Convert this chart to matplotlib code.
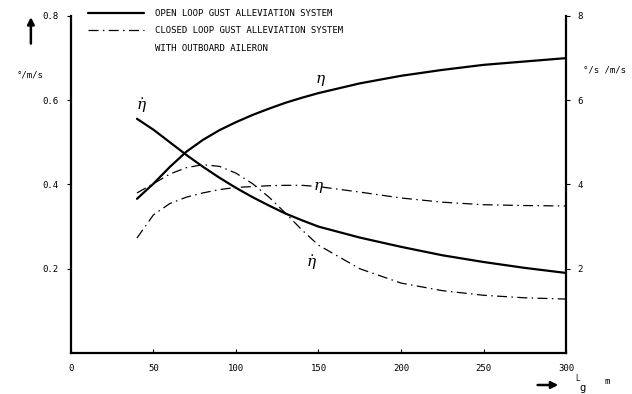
import numpy as np
import matplotlib
matplotlib.use("Agg")
import matplotlib.pyplot as plt
from matplotlib.lines import Line2D

plt.rcParams['font.family'] = ['DejaVu Sans Mono']
plt.rcParams['mathtext.fontset'] = 'dejavuserif'

##========== Data ==========##
# gust scale length L_g [m]
lg = [40, 50, 60, 70, 80, 90, 100, 110, 120, 130, 140, 150,
      175, 200, 225, 250, 275, 300]

# aileron angle per gust velocity, eta [deg/(m/s)] - left axis
eta_open = [0.366, 0.402, 0.442, 0.478, 0.506, 0.529, 0.548, 0.565, 0.580,
            0.594, 0.606, 0.617, 0.640, 0.658, 0.672, 0.684, 0.692, 0.700]
eta_closed = [0.273, 0.328, 0.355, 0.370, 0.380, 0.388, 0.393, 0.395, 0.397,
              0.398, 0.398, 0.395, 0.382, 0.368, 0.358, 0.352, 0.350, 0.349]

# aileron rate per gust velocity, eta dot [deg/s/(m/s)] - right axis
etadot_open = [5.56, 5.30, 5.00, 4.70, 4.42, 4.16, 3.92, 3.70, 3.50,
               3.31, 3.15, 3.00, 2.74, 2.52, 2.32, 2.16, 2.02, 1.90]
etadot_closed = [3.80, 4.02, 4.25, 4.40, 4.47, 4.43, 4.27, 4.02, 3.70,
                 3.32, 2.92, 2.56, 2.00, 1.66, 1.48, 1.37, 1.31, 1.28]

x_ticks = [0, 50, 100, 150, 200, 250, 300]
left_ticks = [0.2, 0.4, 0.6, 0.8]
right_ticks = [2, 4, 6, 8]

legend_labels = ['OPEN LOOP GUST ALLEVIATION SYSTEM',
                 'CLOSED LOOP GUST ALLEVIATION SYSTEM',
                 'WITH OUTBOARD AILERON']

##========== Plot ==========##
fig = plt.figure(figsize=(6.32, 3.94), dpi=100)
ax = fig.add_axes([0.1123, 0.1041, 0.7833, 0.8553])
ax2 = ax.twinx()

solid = dict(color='black', lw=1.6, solid_capstyle='round')
dashdot = dict(color='black', lw=0.9, linestyle=(0, (8, 3.5, 1.2, 3.5)))

ax.plot(lg, eta_open, **solid)
ax.plot(lg, eta_closed, **dashdot)
ax2.plot(lg, etadot_open, **solid)
ax2.plot(lg, etadot_closed, **dashdot)

ax.set_xlim(0, 300)
ax.set_ylim(0, 0.8)
ax2.set_ylim(0, 8)

ax.set_xticks(x_ticks)
ax.set_xticklabels([str(v) for v in x_ticks])
ax.set_yticks(left_ticks)
ax.set_yticklabels([f'{v:.1f}' for v in left_ticks])
ax2.set_yticks(right_ticks)
ax2.set_yticklabels([str(v) for v in right_ticks])

for a in (ax, ax2):
    a.spines['top'].set_visible(False)
    for s in ('left', 'right', 'bottom'):
        a.spines[s].set_linewidth(1.6)
ax.spines['right'].set_visible(False)
ax2.spines['left'].set_visible(False)
ax2.spines['bottom'].set_visible(False)

ax.tick_params(axis='x', direction='in', length=3, width=0.8, pad=8, labelsize=6.5)
ax.tick_params(axis='y', direction='out', length=3, width=0.8, pad=6, labelsize=6.5)
ax2.tick_params(axis='y', direction='out', length=3, width=0.8, pad=5, labelsize=6.5)

# curve labels
ax.text(43, 0.565, r'$\dot{\eta}$', fontsize=11, ha='center', va='bottom')
ax.text(151, 0.628, r'$\eta$', fontsize=11, ha='center', va='bottom')
ax.text(150, 0.392, r'$\eta$', fontsize=11, ha='center', va='center')
ax.text(146, 0.215, r'$\dot{\eta}$', fontsize=11, ha='center', va='center')

# axis units with arrows
ax.text(-0.083, 0.825, '°/m/s', transform=ax.transAxes, fontsize=6.5,
        ha='center', va='center')
ax.annotate('', xy=(-0.081, 1.005), xytext=(-0.081, 0.91),
            xycoords='axes fraction', textcoords='axes fraction',
            arrowprops=dict(arrowstyle='-|>', color='black', lw=1.8,
                            mutation_scale=10))
ax.text(1.034, 0.84, '°/s /m/s', transform=ax.transAxes, fontsize=6.5,
        ha='left', va='center')
ax.annotate('', xy=(0.99, -0.095), xytext=(0.937, -0.095),
            xycoords='axes fraction', textcoords='axes fraction',
            arrowprops=dict(arrowstyle='-|>', color='black', lw=1.8,
                            mutation_scale=10))
ax.text(1.018, -0.075, 'L', transform=ax.transAxes, fontsize=5.5,
        ha='left', va='center')
ax.text(1.027, -0.105, 'g', transform=ax.transAxes, fontsize=7.5,
        ha='left', va='center')
ax.text(1.077, -0.085, 'm', transform=ax.transAxes, fontsize=6.5,
        ha='left', va='center')

# legend
handles = [Line2D([], [], **solid), Line2D([], [], **dashdot),
           Line2D([], [], color='none')]
ax.legend(handles, legend_labels, loc='upper left',
          bbox_to_anchor=(0.034, 1.02), frameon=False, fontsize=6.5,
          handlelength=6.2, handletextpad=1.2, labelspacing=0.9,
          borderpad=0, borderaxespad=0)

fig.savefig('out.png', dpi=100)
